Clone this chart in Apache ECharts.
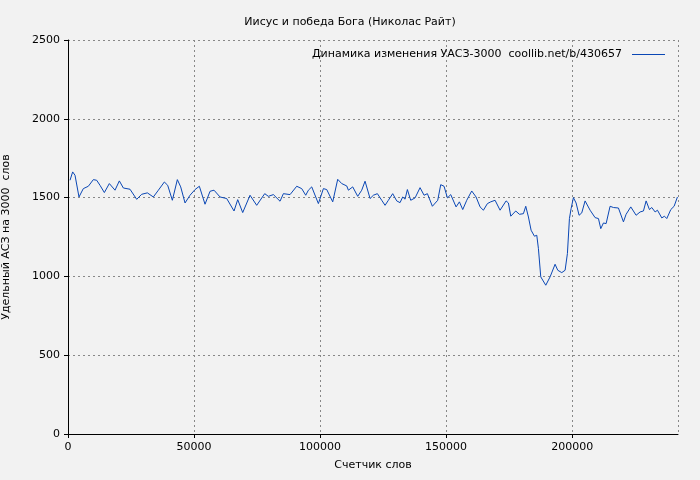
<!DOCTYPE html>
<html><head><meta charset="utf-8">
<script src="https://cdn.jsdelivr.net/npm/echarts@6/dist/echarts.min.js"></script>
<style>html,body{margin:0;background:#f2f2f2}#c{width:700px;height:480px}</style>
</head><body><div id="c"></div>
<script>
var words = [800,1850,2780,4360,6080,8070,10050,11370,12700,14420,16400,18650,20370,21960,24600,27250,29230,31480,33860,35850,38230,39550,41400,43380,44710,46430,48410,50400,52110,54360,56350,57930,60320,62960,65870,67330,69310,72220,74860,78040,79490,81480,84120,85450,88090,90740,92720,94310,95370,96690,99330,101320,102640,105020,107000,108590,110580,111240,112960,114940,116530,117850,119840,
121150,122740,124460,125780,127100,128820,130410,131730,132790,133720,134640,135970,137690,139670,141260,142580,144560,146680,147870,149190,150520,151840,153960,155280,156600,158190,160170,161890,163480,164800,166390,167710,169430,171410,173800,174720,175650,177630,179090,180670,181600,182660,183720,185040,185970,186630,187550,189540,191260,193240,194300,195890,197210,198130,198930,199590,200510,201570,202760,203820,205140,207130,209110,210440,211360,212420,213480,215060,216390,218370,220360,221410,223270,225380,226970,228290,229350,230670,231600,232920,233850,235570,236620,237550,239140,240460,241780];
var uasz = [1610,1663,1642,1504,1557,1572,1614,1610,1578,1532,1589,1547,1606,1561,1553,1489,1521,1530,1504,1547,1599,1578,1483,1614,1568,1466,1515,1551,1572,1458,1540,1547,1504,1494,1415,1487,1405,1515,1451,1525,1508,1519,1477,1525,1519,1572,1557,1515,1547,1568,1462,1557,1551,1473,1616,1589,1574,1547,1568,1508,1547,1604,1494,
1515,1525,1483,1451,1483,1525,1479,1468,1504,1490,1551,1483,1498,1563,1515,1525,1445,1483,1582,1572,1498,1519,1441,1473,1424,1483,1542,1504,1441,1420,1462,1473,1483,1420,1479,1466,1382,1415,1394,1398,1445,1377,1293,1255,1261,1176,997,944,997,1077,1039,1024,1039,1145,1367,1430,1500,1466,1388,1403,1479,1420,1373,1367,1303,1339,1335,1445,1437,1434,1346,1394,1441,1388,1409,1415,1479,1424,1437,1409,1420,1371,1382,1367,1424,1445,1504];
var pts = words.map(function(w, i) { return [w, uasz[i]]; });
var grid = {show: true, lineStyle: {color: '#888', type: [2, 3], width: 1}};
var plain = function(v) { return String(v); };
var chart = echarts.init(document.getElementById('c'));
chart.setOption({
  backgroundColor: '#f2f2f2',
  textStyle: {fontFamily: 'DejaVu Sans'},
  title: {text: 'Иисус и победа Бога (Николас Райт)', left: 'center', top: 12,
    textStyle: {fontSize: 11, fontWeight: 'normal', color: '#000'}},
  legend: {right: 30, top: 44, itemWidth: 33, itemHeight: 1, icon: 'rect', itemGap: 0,
    align: 'right', textStyle: {fontSize: 11, color: '#000', padding: [0, 5, 0, 0]},
    data: [{name: 'Динамика изменения УАСЗ-3000  coollib.net/b/430657', icon: 'rect'}]},
  grid: {left: 68, right: 22, top: 40, bottom: 46, containLabel: false, outerBoundsMode: 'none'},
  xAxis: {type: 'value', min: 0, max: 242000, interval: 50000, name: 'Счетчик слов',
    nameLocation: 'middle', nameGap: 26, nameTextStyle: {fontSize: 11, color: '#000'},
    axisLine: {lineStyle: {color: '#000'}}, axisTick: {show: true, length: 4, lineStyle: {color: '#000'}},
    axisLabel: {fontSize: 11, color: '#000', showMaxLabel: false, formatter: plain}, splitLine: grid},
  yAxis: {type: 'value', min: 0, max: 2500, interval: 500, name: 'Удельный АСЗ на 3000  слов',
    nameLocation: 'middle', nameGap: 56, nameTextStyle: {fontSize: 11, color: '#000'},
    axisLine: {show: true, lineStyle: {color: '#000'}}, axisTick: {show: true, length: 4, lineStyle: {color: '#000'}},
    axisLabel: {fontSize: 11, color: '#000', formatter: plain}, splitLine: grid},
  series: [{name: 'Динамика изменения УАСЗ-3000  coollib.net/b/430657', type: 'line', data: pts,
    showSymbol: false, lineStyle: {color: '#0a47b5', width: 1}, itemStyle: {color: '#0a47b5'}, animation: false}]
});
</script></body></html>
